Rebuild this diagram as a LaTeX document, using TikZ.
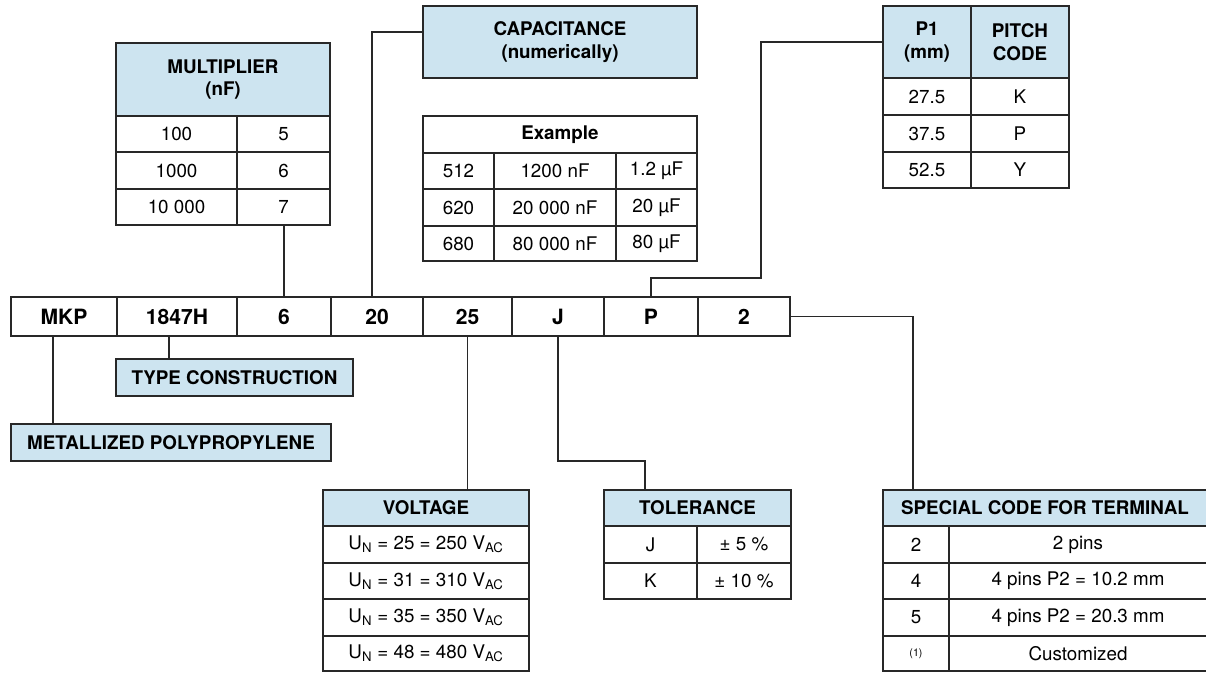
\documentclass[tikz,border=0pt]{standalone}
\usepackage{fontspec}
\setmainfont{TeX Gyre Heros}
\definecolor{hdr}{RGB}{205,228,240}
\definecolor{linec}{RGB}{40,40,40}
\newcommand\mycell[7][]{\node[cellbase,#1,minimum width={(#5-#3)*0.75pt},minimum height={(#6-#4)*0.75pt}] (#2) at ({(#3+#5)/2},{(#4+#6)/2}) {#7};}
\tikzset{
  cellbase/.style={draw=linec, line width=0.9pt, inner sep=0pt, outer sep=0pt, align=center, text=black, font=\fontsize{14.1}{16.8}\selectfont},
  hd/.style={fill=hdr, font=\bfseries\fontsize{14.1}{16.8}\selectfont},
  bold/.style={font=\bfseries\fontsize{14.1}{16.8}\selectfont},
  mainc/.style={font=\bfseries\fontsize{15.8}{18}\selectfont},
  conn/.style={draw=linec, line width=0.9pt}
}
\begin{document}
\begin{tikzpicture}[x=0.75pt,y=-0.75pt]
\useasboundingbox (0,0) rectangle (1206,672);
% multiplier
\mycell[hd]{mh}{116}{43}{330}{116}{MULTIPLIER\\(nF)}
\mycell{m1a}{116}{116}{237}{152}{100}
\mycell{m1b}{237}{116}{330}{152}{5}
\mycell{m2a}{116}{152}{237}{189}{1000}
\mycell{m2b}{237}{152}{330}{189}{6}
\mycell{m3a}{116}{189}{237}{225}{10 000}
\mycell{m3b}{237}{189}{330}{225}{7}
% capacitance
\mycell[hd]{cap}{423}{6}{697}{78}{CAPACITANCE\\(numerically)}
% example
\mycell[bold]{eh}{423}{116}{697}{153}{Example}
\mycell{e1a}{423}{153}{494}{189}{512}
\mycell{e1b}{494}{153}{616}{189}{1200 nF}
\mycell{e1c}{616}{153}{697}{189}{1.2 µF}
\mycell{e2a}{423}{189}{494}{226}{620}
\mycell{e2b}{494}{189}{616}{226}{20 000 nF}
\mycell{e2c}{616}{189}{697}{226}{20 µF}
\mycell{e3a}{423}{226}{494}{261}{680}
\mycell{e3b}{494}{226}{616}{261}{80 000 nF}
\mycell{e3c}{616}{226}{697}{261}{80 µF}
% pitch
\mycell[hd]{p1h}{883}{6}{971}{78}{P1\\(mm)}
\mycell[hd]{pch}{971}{6}{1069}{78}{PITCH\\CODE}
\mycell{p1a}{883}{78}{971}{115}{27.5}
\mycell{p1b}{971}{78}{1069}{115}{K}
\mycell{p2a}{883}{115}{971}{152}{37.5}
\mycell{p2b}{971}{115}{1069}{152}{P}
\mycell{p3a}{883}{152}{971}{188}{52.5}
\mycell{p3b}{971}{152}{1069}{188}{Y}
% main row
\mycell[mainc]{cMKP}{11}{297}{117}{336}{MKP}
\mycell[mainc]{c1847}{117}{297}{237}{336}{1847H}
\mycell[mainc]{c6}{237}{297}{331}{336}{6}
\mycell[mainc]{c20}{331}{297}{423}{336}{20}
\mycell[mainc]{c25}{423}{297}{512}{336}{25}
\mycell[mainc]{cJ}{512}{297}{604}{336}{J}
\mycell[mainc]{cP}{604}{297}{698}{336}{P}
\mycell[mainc]{c2}{698}{297}{790}{336}{2}
% type / metallized
\mycell[hd]{type}{116}{359}{353}{396}{TYPE CONSTRUCTION}
\mycell[hd]{metal}{11}{424}{331}{461}{METALLIZED POLYPROPYLENE}
% voltage
\mycell[hd]{vh}{323}{490}{529}{526}{VOLTAGE}
\mycell{v1}{323}{526}{529}{563}{U\textsubscript{N} = 25 = 250 V\textsubscript{AC}}
\mycell{v2}{323}{563}{529}{599}{U\textsubscript{N} = 31 = 310 V\textsubscript{AC}}
\mycell{v3}{323}{599}{529}{636}{U\textsubscript{N} = 35 = 350 V\textsubscript{AC}}
\mycell{v4}{323}{636}{529}{671}{U\textsubscript{N} = 48 = 480 V\textsubscript{AC}}
% tolerance
\mycell[hd]{th}{604}{490}{791}{526}{TOLERANCE}
\mycell{t1a}{604}{526}{697}{563}{J}
\mycell{t1b}{697}{526}{791}{563}{± 5 \%}
\mycell{t2a}{604}{563}{697}{599}{K}
\mycell{t2b}{697}{563}{791}{599}{± 10 \%}
% special
\mycell[hd]{sh}{883}{490}{1207}{526}{SPECIAL CODE FOR TERMINAL}
\mycell{s1a}{883}{526}{949}{563}{2}
\mycell{s1b}{949}{526}{1207}{563}{2 pins}
\mycell{s2a}{883}{563}{949}{599}{4}
\mycell{s2b}{949}{563}{1207}{599}{4 pins P2 = 10.2 mm}
\mycell{s3a}{883}{599}{949}{636}{5}
\mycell{s3b}{949}{599}{1207}{636}{4 pins P2 = 20.3 mm}
\mycell[font=\fontsize{8}{10}\selectfont]{s4a}{883}{636}{949}{671}{(1)}
\mycell{s4b}{949}{636}{1207}{671}{Customized}
% bend coordinates
\coordinate (pbend) at (761,278);
\coordinate (tbend) at (645,461);
\coordinate (sx) at (913,490);
% connectors
\draw[conn] (c6.north) -- (c6.north |- m3b.south);
\draw[conn] ([xshift=-3.75pt]c20.north) |- ([yshift=7.5pt]cap.west);
\draw[conn] (cP.north) |- (pbend) |- (p1h.west);
\draw[conn] ([xshift=-6pt]c1847.south) -- ([xshift=-6pt]c1847.south |- type.north);
\draw[conn] ([xshift=-8.25pt]cMKP.south) -- ([xshift=-8.25pt]cMKP.south |- metal.north);
\draw[conn] (c25.south) -- (c25.south |- vh.north);
\draw[conn] (cJ.south) |- (tbend) -- (tbend |- th.north);
\draw[conn] (c2.east) -| (sx);
\end{tikzpicture}
\end{document}
